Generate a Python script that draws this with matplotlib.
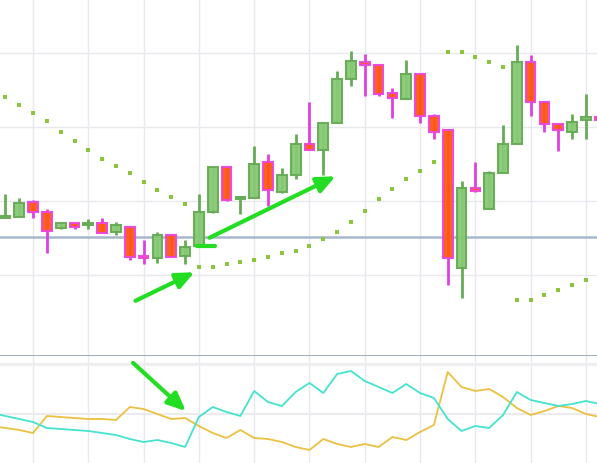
import matplotlib
matplotlib.use("Agg")
import matplotlib.pyplot as plt
import numpy as np

# ---- data (price panel) ----
opens  = [107.70,107.84,109.86,108.51,106.35,107.03,106.76,107.03,105.81,106.49,
          102.57,102.30,105.41,102.57,103.92,108.51,114.59,110.27,110.41,115.27,
          111.22,113.51,117.70,116.89,120.54,126.49,128.78,128.38,124.59,123.78,
          127.16,121.49,119.59,100.95,111.76,108.92,113.78,117.70,128.78,123.38,
          120.41,119.32,120.95,121.35]
highs  = [110.95,110.41,110.14,108.92,107.16,107.16,107.57,107.70,107.16,106.62,
          104.73,105.81,105.54,104.73,110.95,114.59,114.59,110.54,117.43,116.35,
          114.46,119.05,123.38,120.68,127.57,130.27,129.86,128.38,125.27,129.05,
          127.16,121.76,119.73,112.70,115.27,114.05,120.27,131.08,129.73,123.38,
          120.41,121.76,124.46,121.50]
lows   = [107.70,107.84,107.70,102.97,106.22,106.22,106.22,105.68,105.41,102.03,
          101.49,101.62,102.43,101.49,103.92,108.38,110.00,108.24,110.41,109.32,
          111.08,112.97,116.89,113.51,120.54,125.54,124.19,124.19,121.22,123.78,
          120.54,118.38,98.65,96.89,111.22,108.92,113.78,117.70,121.49,119.32,
          116.76,118.38,118.38,120.80]
closes = [107.97,109.73,108.51,105.95,107.03,106.49,107.03,105.68,106.76,102.43,
          102.30,105.41,102.43,103.78,108.51,114.59,110.14,110.54,115.00,111.49,
          113.51,117.70,116.89,120.54,126.49,128.92,128.38,124.46,123.92,127.16,
          121.49,119.32,102.30,111.76,111.35,113.78,117.70,128.78,123.38,120.41,
          119.59,120.68,121.35,120.95]
sar = [124.05,122.97,121.89,120.81,119.32,118.11,116.89,115.68,114.73,113.78,
       112.57,111.49,110.54,109.59,101.08,101.08,101.49,101.76,102.03,102.43,
       102.97,103.24,103.92,104.86,105.81,107.16,108.65,110.27,111.62,112.97,
       114.05,115.27,130.14,130.14,129.46,128.78,128.11,96.62,96.62,97.30,
       97.97,98.65,99.32]
level = 105.14

# ---- data (oscillator panel) ----
osc_idx = list(range(-1, 44))
cyan_line = [20.4,19.2,18.0,16.8,14.4,14.0,13.6,13.2,12.4,11.6,10.0,8.8,9.6,8.4,6.8,
             18.8,22.8,20.8,19.2,29.2,24.8,23.2,28.8,32.4,28.4,36.0,37.2,33.2,30.8,
             28.4,32.0,28.4,26.4,18.0,13.2,15.2,14.4,19.6,28.8,25.6,24.4,23.2,24.0,
             25.2,24.0]
gold_line = [15.2,14.4,13.6,12.4,19.2,18.8,18.4,18.0,18.0,17.6,22.8,22.0,20.0,18.0,18.4,
             15.2,12.4,10.4,13.6,10.4,10.0,8.8,6.8,5.6,10.0,8.0,6.8,8.0,6.8,
             10.8,9.6,12.8,15.6,36.8,30.8,29.2,30.0,26.8,22.4,19.6,21.2,23.2,22.4,
             20.0,18.8]

W, H = 597, 463
fig = plt.figure(figsize=(W/100, H/100), dpi=100)
fig.patch.set_facecolor("white")

sep = 355
ax = fig.add_axes([0, (H-sep)/H, 1, sep/H])
ax2 = fig.add_axes([0, 0, 1, (H-sep)/H])

xlim = (-0.39, 42.8)
grid_x = list(range(2, 43, 4))

for a in (ax, ax2):
    a.set_xlim(*xlim)
    for s in a.spines.values():
        s.set_visible(False)
    a.set_xticks([]); a.set_yticks([])
    a.set_facecolor("white")
    for gx in grid_x:
        a.axvline(gx, color="#e8e8ee", lw=1.0, zorder=0)

ax.set_ylim(89.19, 137.16)
for gy in (100, 110, 120, 130):
    ax.axhline(gy, color="#e8e8ee", lw=1.0, zorder=0)

idx = np.arange(len(opens))
o = np.array(opens); c = np.array(closes); h = np.array(highs); l = np.array(lows)
up = c >= o

g_face, g_edge = "#88ca76", "#66ab55"
r_face, r_edge, r_wick = "#ff5a10", "#ee44dd", "#e040e0"

for i in idx:
    col_w = g_edge if up[i] else r_wick
    ax.vlines(i, l[i], h[i], color=col_w, lw=2.0, zorder=2)
body_bot = np.minimum(o, c)
body_h = np.maximum(np.abs(c - o), 0.15)
ax.bar(idx[up], body_h[up], bottom=body_bot[up], width=0.7,
       color=g_face, edgecolor=g_edge, linewidth=1.5, zorder=3, alpha=0.95)
ax.bar(idx[~up], body_h[~up], bottom=body_bot[~up], width=0.7,
       color=r_face, edgecolor=r_edge, linewidth=1.5, zorder=3, alpha=0.95)

ax.scatter(np.arange(len(sar)), sar, marker="s", s=7, color="#8cc43c",
           linewidths=0, zorder=4)

ax.axhline(level, color="#a8b8cc", lw=1.8, zorder=1)

# separator between panels
ax2.axhline(43.6, color="#a4adba", lw=1.5, zorder=5)

ax2.set_ylim(0.4, 43.6)
ax2.axhline(40, color="#efeff2", lw=2.5, zorder=0)
ax2.axhline(20, color="#ebebef", lw=1.5, zorder=0)
ax2.plot(osc_idx, gold_line, color="#ecc040", lw=1.3, zorder=3)
ax2.plot(osc_idx, cyan_line, color="#44e2cf", lw=1.3, zorder=3)

# annotation arrows (figure pixel coordinates)
def fp(x, y):
    return (x / W, (H - y) / H)

green = "#22dd22"
arrows = [((133, 302), (197, 271)), ((207, 239), (338, 175)), ((131, 361), (188, 413))]
for (s, e) in arrows:
    fig.patches.append(matplotlib.patches.FancyArrowPatch(
        fp(*s), fp(*e), transform=fig.transFigure,
        arrowstyle="-|>,head_length=5,head_width=2.2",
        mutation_scale=2.2, color=green, lw=3, zorder=10))
fig.lines.append(matplotlib.lines.Line2D([197/W, 215/W], [(H-246)/H, (H-246)/H],
                 transform=fig.transFigure, color=green, lw=3, solid_capstyle="round", zorder=10))

fig.savefig("out.png", dpi=100, facecolor="white")
